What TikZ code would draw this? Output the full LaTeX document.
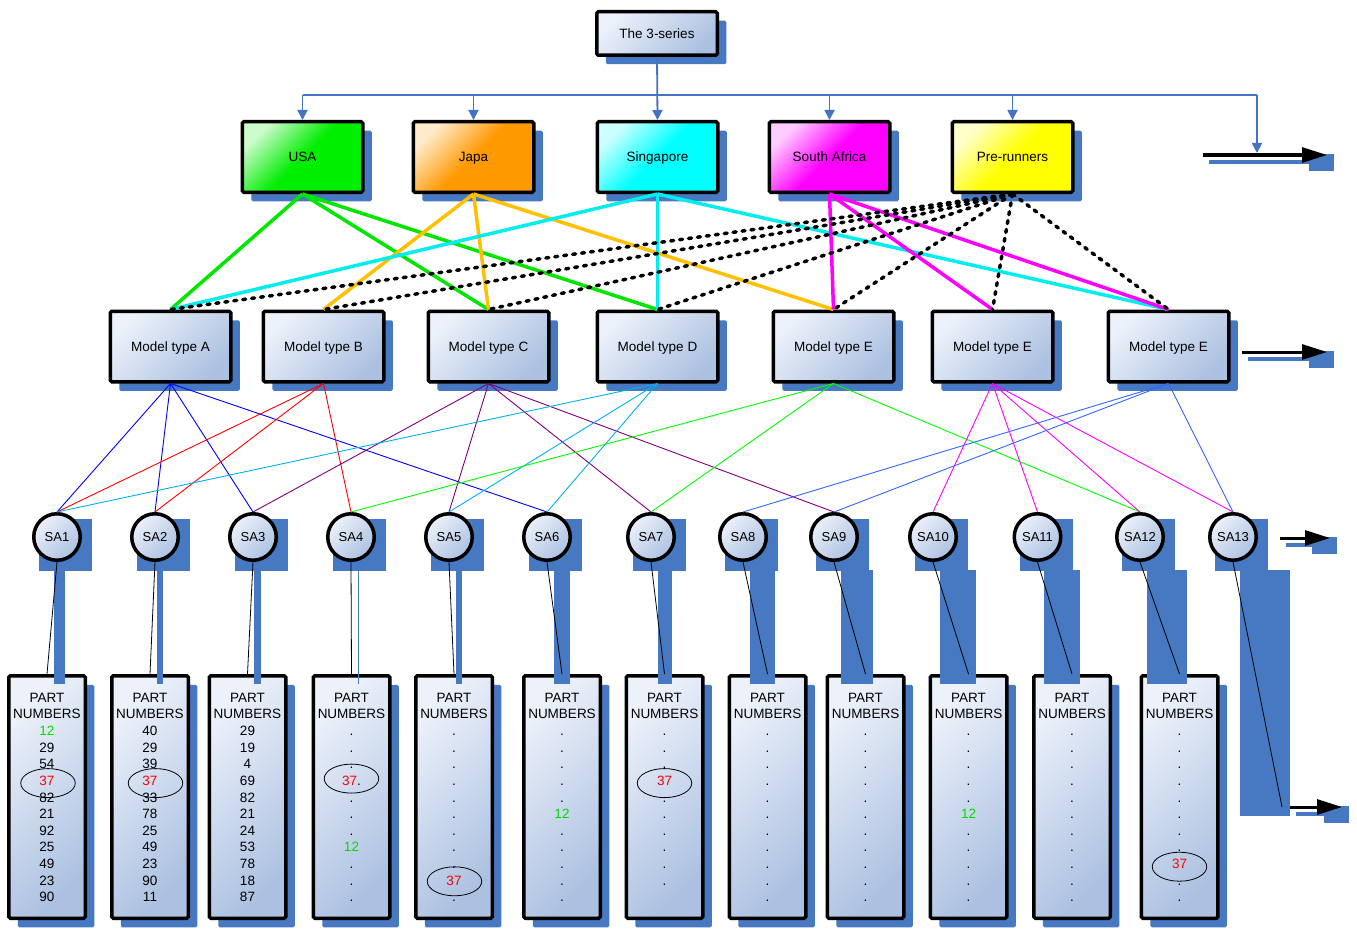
\documentclass[tikz,border=0pt]{standalone}
\usepackage{fontspec}
\setmainfont{Liberation Sans}
\usetikzlibrary{arrows.meta,shadows,shapes.geometric,calc}

% palette
\definecolor{shb}{RGB}{71,120,194}
\definecolor{treeblue}{RGB}{68,114,196}
\definecolor{bxlight}{RGB}{236,241,250}
\definecolor{bxdark}{RGB}{172,193,225}
\definecolor{fgreen}{RGB}{0,238,0}
\definecolor{forange}{RGB}{255,153,0}
\definecolor{fcyan}{RGB}{0,255,255}
\definecolor{fmag}{RGB}{255,0,255}
\definecolor{fyel}{RGB}{255,255,0}
\definecolor{kgreen}{RGB}{0,230,0}
\definecolor{korange}{RGB}{255,192,0}
\definecolor{kcyan}{RGB}{0,238,238}
\definecolor{kmag}{RGB}{255,0,255}
\definecolor{tblue}{RGB}{0,0,255}
\definecolor{tred}{RGB}{255,0,0}
\definecolor{tpurple}{RGB}{128,0,128}
\definecolor{tsky}{RGB}{0,176,240}
\definecolor{tgreen}{RGB}{0,255,0}
\definecolor{tmag}{RGB}{255,0,255}
\definecolor{troyal}{RGB}{51,102,255}
\definecolor{numgreen}{RGB}{0,220,0}
\definecolor{numred}{RGB}{255,0,0}

\newcommand\gnum[1]{\textcolor{numgreen}{#1}}
\newcommand\rnum[1]{\textcolor{numred}{#1}}

\tikzset{
  base/.style={draw=black, line width=3.5pt, rounded corners=1.5pt, inner sep=0pt,
    font=\fontsize{13.5}{16}\selectfont, text height=9.7pt, text depth=0pt,
    general shadow={fill=shb, shadow xshift=9pt, shadow yshift=-9pt}},
  bluebox/.style={base, top color=bxlight, bottom color=bxdark, shading angle=45},
  huebox/.style={base, top color=white!80!#1, bottom color=#1, middle color=#1, shading angle=45},
  topbox/.style={minimum width=120.5pt, minimum height=43.5pt},
  cbox/.style={minimum width=120.5pt, minimum height=70.5pt},
  mbox/.style={minimum width=120.5pt, minimum height=70.5pt},
  pnbox/.style={minimum width=76.5pt, minimum height=242.5pt},
  sanode/.style={circle, draw=black, line width=3.5pt, inner sep=0pt, minimum size=46.5pt,
    top color=bxlight, bottom color=bxdark, shading angle=45,
    font=\fontsize{13}{15}\selectfont, text height=9.4pt, text depth=0pt},
  pnrow/.style={inner sep=0pt, text height=9.7pt, text depth=0pt, font=\fontsize{13.5}{16}\selectfont},
  ring/.style={ellipse, draw=black, line width=0.8pt, minimum width=54.5pt, minimum height=29pt, inner sep=0pt},
  tree/.style={draw=treeblue, line width=1.8pt},
  treearrow/.style={tree, -{Triangle[length=10pt,width=10pt]}},
  hue/.style={line width=3.5pt, draw=#1},
  prelink/.style={line width=3.5pt, draw=black, line cap=round, dash pattern=on 3pt off 6pt},
  thinlink/.style={line width=0.9pt, draw=#1},
  partlink/.style={line width=0.8pt, draw=black},
  linkshadow/.style={fill=shb, draw=shb, line width=1pt},
  bigarrow/.style={line width=3pt, draw=black, -{Triangle[length=25pt,width=15pt]}},
  arrowshadow/.style={line width=3.5pt, draw=shb},
}

% list of parts stacked under the top edge of a part box
\newcommand\pnrows[2]{%
  \foreach \t [count=\k] in {#2}{%
    \node[pnrow] (#1-\k) at ($(#1.north)+(0,{23.5+(\k-1)*16.62})$) {\t};}}

% black arrow with its blue drop shadow
\newcommand\shadedarrow[2]{%
  \fill[shb] ($(#2)+(-18,-1)$) rectangle ($(#2)+(7,16)$);
  \draw[arrowshadow] ($(#1)+(6,7)$) -- ($(#2)+(-16,7)$);
  \draw[bigarrow] (#1) -- (#2);}

% sub-assembly to part list link, with shadow of its extent
\newcommand\salink[2]{%
  \filldraw[linkshadow] ($(#1.south)+(7,8)$) rectangle ($(#2.north)+(7,9)$);
  \draw[partlink] (#1.south) -- (#2.north);}

\begin{document}
\begin{tikzpicture}[x=1pt,y=-1pt]
\fill[white] (0,0) rectangle (1357,931);
\useasboundingbox (0,0) rectangle (1357,931);

% top level
\node[bluebox, topbox] (title) at (657,33.5) {The 3-series};

% markets
\node[huebox=fgreen,  cbox] (usa)  at (302.5,157) {USA};
\node[huebox=forange, cbox] (japa) at (473.5,157) {Japa};
\node[huebox=fcyan,   cbox] (sing) at (657.5,157) {Singapore};
\node[huebox=fmag,    cbox] (safr) at (829.5,157) {South Africa};
\node[huebox=fyel,    cbox] (prer) at (1012.5,157) {Pre-runners};

% model types
\node[bluebox, mbox] (ma)  at (170.5,346.5)  {Model type A};
\node[bluebox, mbox] (mb)  at (323.5,346.5)  {Model type B};
\node[bluebox, mbox] (mc)  at (488.5,346.5)  {Model type C};
\node[bluebox, mbox] (md)  at (657.5,346.5)  {Model type D};
\node[bluebox, mbox] (me1) at (833.5,346.5)  {Model type E};
\node[bluebox, mbox] (me2) at (992.5,346.5)  {Model type E};
\node[bluebox, mbox] (me3) at (1168.5,346.5) {Model type E};

% sub-assemblies
\foreach \n/\x in {1/57,2/155,3/253,4/351,5/449,6/547,7/651,8/743,9/834,10/933,11/1037.5,12/1140,13/1233}{
  \fill[shb] (\x-18,519) rectangle (\x+35,571);
  \node[sanode] (sa\n) at (\x,537) {SA\n};
}

% part number lists
\foreach \n/\x in {1/47,2/150,3/247.5,4/351.5,5/454,6/562,7/664.5,8/767.5,9/865.5,10/968.5,11/1072,12/1179.5}{
  \node[bluebox, pnbox] (pn\n) at (\x,797) {};
}
\pnrows{pn1}{PART,NUMBERS,\gnum{12},29,54,\rnum{37},82,21,92,25,49,23,90}
\pnrows{pn2}{PART,NUMBERS,40,29,39,\rnum{37},33,78,25,49,23,90,11}
\pnrows{pn3}{PART,NUMBERS,29,19,4,69,82,21,24,53,78,18,87}
\pnrows{pn4}{PART,NUMBERS,.,.,.,\rnum{37}.,.,.,.,\gnum{12},.,.,.}
\pnrows{pn5}{PART,NUMBERS,.,.,.,.,.,.,.,.,.,\rnum{37},.}
\pnrows{pn6}{PART,NUMBERS,.,.,.,.,.,\gnum{12},.,.,.,.,.}
\pnrows{pn7}{PART,NUMBERS,.,.,.,\rnum{37},.,.,.,.,.,.}
\pnrows{pn8}{PART,NUMBERS,.,.,.,.,.,.,.,.,.,.,.}
\pnrows{pn9}{PART,NUMBERS,.,.,.,.,.,.,.,.,.,.,.}
\pnrows{pn10}{PART,NUMBERS,.,.,.,.,.,\gnum{12},.,.,.,.,.}
\pnrows{pn11}{PART,NUMBERS,.,.,.,.,.,.,.,.,.,.,.}
\pnrows{pn12}{PART,NUMBERS,.,.,.,.,.,.,.,.,\rnum{37},.,.}

% rings around part 37
\node[ring] (o1)  at ($(pn1-6)+(1,2.5)$) {};
\node[ring] (o2)  at ($(pn2-6)+(5.5,2.5)$) {};
\node[ring] (o4)  at ($(pn4-6)+(0,-2)$) {};
\node[ring] (o5)  at ($(pn5-12)+(0.5,1)$) {};
\node[ring] (o7)  at ($(pn7-6)+(0,2.5)$) {};
\node[ring] (o12) at ($(pn12-11)+(0,3)$) {};

% level arrows on the right
\coordinate (a1s) at (1203,155);  \coordinate (a1e) at (1327,155);
\coordinate (a2s) at (1242,352);  \coordinate (a2e) at (1327,352);
\coordinate (a3s) at (1280,538);  \coordinate (a3e) at (1330,538);
\coordinate (a4s) at (1290,807);  \coordinate (a4e) at (1342,807);
\coordinate (sa13end) at (1282,807);
\shadedarrow{a1s}{a1e}
\shadedarrow{a2s}{a2e}
\shadedarrow{a3s}{a3e}

% distribution tree from the series to the markets
\coordinate (tj) at (657,95);
\coordinate (tend) at (1257,95);
\draw[treearrow] (title.south) -- (sing.north);
\draw[tree] (usa.north |- tj) -- (tend);
\foreach \c in {usa,japa,safr,prer} \draw[treearrow] (\c.north |- tj) -- (\c.north);
\draw[treearrow] (tend) -- ($(tend |- a1s)+(0,-2)$);

% markets to model types
\foreach \m in {ma,mc,md}   \draw[hue=kgreen]  (usa.south)  -- (\m.north);
\foreach \m in {mb,mc,me1}  \draw[hue=korange] (japa.south) -- (\m.north);
\foreach \m in {ma,md,me3}  \draw[hue=kcyan]   (sing.south) -- (\m.north);
\foreach \m in {me1,me2,me3} \draw[hue=kmag]   (safr.south) -- (\m.north);
\foreach \m in {ma,mb,mc,md,me1,me2,me3} \draw[prelink] (prer.south) -- (\m.north);

% model types to sub-assemblies
\foreach \s in {1,2,3,6}     \draw[thinlink=tblue]   (ma.south)  -- (sa\s.north);
\foreach \s in {1,2,4}       \draw[thinlink=tred]    (mb.south)  -- (sa\s.north);
\foreach \s in {3,5,7,9}     \draw[thinlink=tpurple] (mc.south)  -- (sa\s.north);
\foreach \s in {1,5,6}       \draw[thinlink=tsky]    (md.south)  -- (sa\s.north);
\foreach \s in {4,7,12}      \draw[thinlink=tgreen]  (me1.south) -- (sa\s.north);
\foreach \s in {10,11,12,13} \draw[thinlink=tmag]    (me2.south) -- (sa\s.north);
\foreach \s in {8,9,13}      \draw[thinlink=troyal]  (me3.south) -- (sa\s.north);

% sub-assemblies to part lists
\foreach \n in {1,...,12} { \salink{sa\n}{pn\n} }
\filldraw[linkshadow] ($(sa13.south)+(7,8)$) rectangle ($(sa13end)+(7,8)$);
\draw[partlink] (sa13.south) -- (sa13end);
\shadedarrow{a4s}{a4e}
\end{tikzpicture}
\end{document}
